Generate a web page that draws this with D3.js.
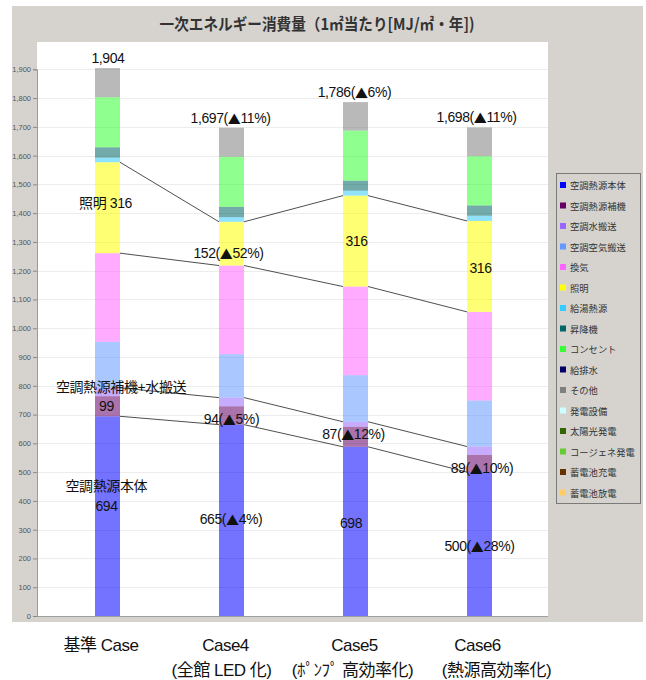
<!DOCTYPE html>
<html>
<head>
<meta charset="utf-8">
<script src="https://cdn.jsdelivr.net/npm/d3@7"></script>
<style>
  html, body { margin: 0; padding: 0; background: #ffffff; }
  svg { display: block; font-family: "Liberation Sans", "Noto Sans CJK JP", sans-serif; }
</style>
</head>
<body>
<svg id="chart" width="646" height="680"></svg>
<script>
// ---- data ----
const title = "一次エネルギー消費量（1㎡当たり[MJ/㎡・年])";
const cases = ["基準 Case", "Case4", "Case5", "Case6"];
const caseNotes = ["", "(全館 LED 化)", "(ﾎﾟﾝﾌﾟ 高効率化)", "(熱源高効率化)"];
const categories = ["空調熱源本体", "空調熱源補機", "空調水搬送", "空調空気搬送", "換気", "照明",
  "給湯熱源", "昇降機", "コンセント", "給排水", "その他", "発電設備", "太陽光発電",
  "コージェネ発電", "蓄電池充電", "蓄電池放電"];
const categoryColors = ["#0000ff", "#660066", "#9966ff", "#6699ff", "#ff66ff", "#ffff00",
  "#33ccff", "#006666", "#33ff33", "#000066", "#808080", "#ccffff", "#336600",
  "#66cc33", "#663300", "#ffcc66"];

// MJ/㎡・年 for each case (基準, Case4, Case5, Case6)
const heatSource   = [694, 665, 588, 500];
const heatAux      = [70, 64, 70, 60];
const waterPump    = [29, 30, 17, 29];
const airFan       = [160, 151, 162, 160];
const ventilation  = [308, 308, 308, 308];
const lighting     = [316, 152, 316, 316];
const hotWater     = [16, 16, 17, 18];
const elevator     = [36, 36, 35, 36];
const outlet       = [174, 174, 174, 171];
const plumbing     = [0, 0, 0, 0];
const other        = [101, 101, 99, 100];
const generation   = [0, 0, 0, 0];
const solar        = [0, 0, 0, 0];
const cogeneration = [0, 0, 0, 0];
const batteryIn    = [0, 0, 0, 0];
const batteryOut   = [0, 0, 0, 0];

const seriesValues = [heatSource, heatAux, waterPump, airFan, ventilation, lighting,
  hotWater, elevator, outlet, plumbing, other, generation, solar, cogeneration,
  batteryIn, batteryOut];

const yTicks = d3.range(0, 2000, 100);
// printed figure for the heat-source block of each case
const heatSourceShown = [694, 665, 698, 500];

// ---- layout ----
const svg = d3.select("#chart");
const frame = { x: 12, y: 6, w: 631, h: 616 };
const plot = { left: 37, right: 548, top: 42, bottom: 616 };
const barW = 25;

const rows = cases.map((c, i) => {
  const r = { case: c };
  categories.forEach((k, j) => { r[k] = seriesValues[j][i]; });
  return r;
});
const stacked = d3.stack().keys(categories)(rows);
const totals = rows.map((r, i) => d3.sum(seriesValues, s => s[i]));

const x = d3.scalePoint().domain(cases).range([45.5, 541.5]).padding(0.5);
const y = d3.scaleLinear().domain([0, 1900]).range([plot.bottom, 69.3]);

// grey chart frame and white plotting area
svg.append("rect").attr("x", frame.x).attr("y", frame.y)
  .attr("width", frame.w).attr("height", frame.h).attr("fill", "#d6d3ce");
svg.append("rect").attr("x", plot.left).attr("y", plot.top)
  .attr("width", plot.right - plot.left).attr("height", plot.bottom - plot.top + 1)
  .attr("fill", "#ffffff");

// title
svg.append("text").attr("x", 317).attr("y", 30).attr("text-anchor", "middle")
  .attr("font-family", "'Noto Sans CJK JP', sans-serif")
  .attr("font-size", 16).attr("font-weight", "bold").attr("fill", "#333")
  .attr("textLength", 315).attr("lengthAdjust", "spacingAndGlyphs")
  .text(title);

// horizontal grid
svg.append("g").selectAll("line").data(yTicks.filter(d => d > 0)).join("line")
  .attr("x1", plot.left).attr("x2", plot.right)
  .attr("y1", d => Math.round(y(d)) + 0.5).attr("y2", d => Math.round(y(d)) + 0.5)
  .attr("stroke", "#ececec").attr("stroke-width", 1);

// y axis
const yAxis = svg.append("g").attr("transform", `translate(${plot.left},0)`)
  .call(d3.axisLeft(y).tickValues(yTicks).tickFormat(d3.format(",")).tickSize(4).tickPadding(2));
yAxis.select(".domain").attr("stroke", "#9a9a9a");
yAxis.selectAll(".tick line").attr("stroke", "#8a8a8a");
yAxis.selectAll(".tick text").attr("font-size", 7.5).attr("fill", "#555")
  .attr("font-family", "'Liberation Sans', sans-serif");

// bottom axis line
svg.append("line").attr("x1", plot.left).attr("x2", plot.right)
  .attr("y1", plot.bottom + 0.5).attr("y2", plot.bottom + 0.5)
  .attr("stroke", "#a0a0a0");

// stacked bars
svg.append("g").selectAll("g").data(stacked).join("g")
  .attr("fill", (d, j) => categoryColors[j]).attr("fill-opacity", 0.55)
  .selectAll("rect").data(d => d.filter(s => s[1] > s[0])).join("rect")
  .attr("x", d => x(d.data.case) - barW / 2)
  .attr("width", barW)
  .attr("y", d => y(d[1]))
  .attr("height", d => y(d[0]) - y(d[1]));

// connector lines between neighbouring bars at selected boundaries
const layerTop = (layer, i) => stacked[layer][i][1];
const linkLayers = [5, 4, 2, 0];
const links = [];
linkLayers.forEach(L => {
  for (let i = 0; i < cases.length - 1; i++) {
    links.push({
      x1: x(cases[i]) + barW / 2, y1: y(layerTop(L, i)),
      x2: x(cases[i + 1]) - barW / 2, y2: y(layerTop(L, i + 1))
    });
  }
});
svg.append("g").selectAll("line").data(links).join("line")
  .attr("x1", d => d.x1).attr("y1", d => d.y1)
  .attr("x2", d => d.x2).attr("y2", d => d.y2)
  .attr("stroke", "#222").attr("stroke-width", 0.8);

// value labels
const fmt = d3.format(",");
const withCut = (v, b, i) => {
  const p = Math.round((b - v) / b * 100);
  return i === 0 || p <= 0 ? fmt(v) : `${fmt(v)}(▲${p}%)`;
};
const labels = [];
const mid = (a, b) => (y(a) + y(b)) / 2;

// totals
totals.forEach((t, i) => {
  labels.push({ x: x(cases[i]) + [0.5, -1, -1, -3][i], y: y(t) - 10, text: withCut(t, totals[0], i) });
});
// lighting
cases.forEach((c, i) => {
  const lo = stacked[4][i][1], hi = stacked[5][i][1];
  const txt = withCut(lighting[i], lighting[0], i);
  labels.push({ x: x(c) + [-2, -3, 1, 1][i], y: mid(lo, hi) + [-5, 9, 0, 2][i],
    text: i === 0 ? `${categories[5]} ${txt}` : txt });
});
// heat-source auxiliaries + water pumping
cases.forEach((c, i) => {
  const lo = stacked[0][i][1], hi = stacked[2][i][1];
  const v = heatAux[i] + waterPump[i];
  labels.push({ x: x(c) + [-1, 0, -2, 2.5][i], y: mid(lo, hi) + [4, 8, 0, 9][i],
    text: withCut(v, heatAux[0] + waterPump[0], i) });
});
labels.push({ x: x(cases[0]) + 13.5, y: y(stacked[2][0][1]) - 1, text: "空調熱源補機+水搬送" });
// heat source
cases.forEach((c, i) => {
  const m = mid(0, stacked[0][i][1]);
  labels.push({ x: x(c) + [-1, -0.5, -4.5, 0][i], y: m + [-10.5, -1, -8.7, 2][i],
    text: withCut(heatSourceShown[i], heatSourceShown[0], i) });
});
labels.push({ x: x(cases[0]) - 1.2, y: mid(0, stacked[0][0][1]) - 30.5, text: categories[0] });

svg.append("g").selectAll("text").data(labels).join("text")
  .attr("x", d => d.x).attr("y", d => d.y)
  .attr("text-anchor", "middle").attr("dominant-baseline", "central")
  .attr("font-size", 14).attr("letter-spacing", -0.4).attr("fill", "#111")
  .each(function (d) {
    // the triangle mark comes from the CJK face so it sits at full cap height
    const t = d3.select(this);
    const parts = d.text.split("▲");
    t.append("tspan").text(parts[0]);
    if (parts.length > 1) {
      t.append("tspan").attr("font-family", "'Noto Sans CJK JP', sans-serif")
        .attr("font-size", 13).text("▲");
      t.append("tspan").text(parts[1]);
    }
  });

// legend
const legend = svg.append("g");
legend.append("rect").attr("x", 556.5).attr("y", 173.5).attr("width", 84).attr("height", 330)
  .attr("fill", "#d6d3ce").attr("stroke", "#7a7a7a");
const item = legend.selectAll("g").data(categories).join("g")
  .attr("transform", (d, k) => `translate(560, ${185 + k * 20.5})`);
item.append("rect").attr("x", 0).attr("y", -3).attr("width", 6).attr("height", 6)
  .attr("fill", (d, k) => categoryColors[k]);
item.append("text").attr("x", 10).attr("y", 0).attr("dominant-baseline", "central")
  .attr("font-family", "'Noto Sans CJK JP', sans-serif")
  .attr("font-size", 9.3).attr("fill", "#333").text(d => d);

// category labels below the frame
const xLab = svg.append("g").attr("font-size", 17).attr("fill", "#111")
  .attr("text-anchor", "middle").attr("letter-spacing", -0.5);
xLab.selectAll("text.c").data(cases).join("text").attr("class", "c")
  .attr("x", (d, i) => x(d) + [-6.5, -6, -1, -2][i]).attr("y", 651).text(d => d);
xLab.selectAll("text.n").data(caseNotes).join("text").attr("class", "n")
  .attr("x", (d, i) => x(cases[i]) + [0, -10, -3, 17][i]).attr("y", 676).text(d => d);
</script>
</body>
</html>
